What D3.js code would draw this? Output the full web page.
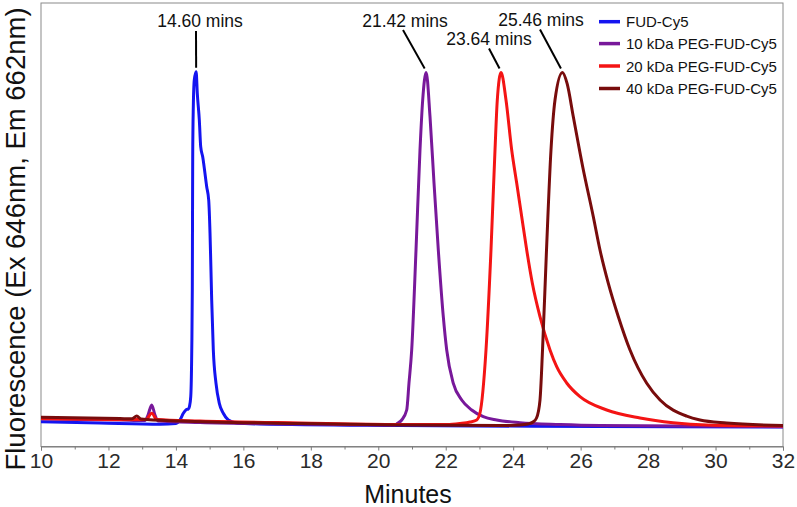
<!DOCTYPE html>
<html>
<head>
<meta charset="utf-8">
<script src="https://cdn.jsdelivr.net/npm/d3@7"></script>
<style>
  html, body { margin: 0; padding: 0; background: #fff; }
  svg { display: block; font-family: "Liberation Sans", Arial, sans-serif; }
</style>
</head>
<body>
<svg id="chart" width="797" height="507"></svg>
<script>
// ---- Data (minutes, fluorescence in arbitrary units) ----
const seriesNames = ["FUD-Cy5", "10 kDa PEG-FUD-Cy5", "20 kDa PEG-FUD-Cy5", "40 kDa PEG-FUD-Cy5"];
const seriesColors = ["#1414f0", "#78189a", "#f41414", "#780c0c"];

const fudTime = [10.00, 11.75, 13.53, 14.00, 14.12, 14.22, 14.32, 14.37, 14.40, 14.44, 14.47, 14.486, 14.492, 14.498, 14.516, 14.545, 14.60, 14.634, 14.694, 14.735, 14.794, 14.913, 14.972, 15.011, 15.032, 15.061, 15.109, 15.189, 15.287, 15.405, 15.554, 15.802, 16.493, 20.644, 26.574, 32.00];
const fudValue = [5.59, 5.30, 5.03, 5.19, 5.98, 7.49, 8.39, 8.46, 8.97, 11.23, 21.76, 35.29, 50.39, 65.28, 76.62, 82.64, 84.51, 79.64, 73.62, 67.60, 65.34, 58.58, 55.58, 48.14, 42.05, 33.03, 21.76, 14.25, 9.74, 7.49, 5.98, 5.30, 5.07, 4.73, 4.51, 4.40];

const peg10Time = [10.00, 12.342, 13.084, 13.173, 13.282, 13.380, 13.469, 14.714, 17.679, 20.496, 20.585, 20.695, 20.843, 20.911, 20.991, 21.119, 21.237, 21.317, 21.42, 21.534, 21.653, 21.780, 21.928, 22.029, 22.225, 22.474, 22.770, 23.114, 23.511, 24.202, 25.388, 26.574, 32.00];
const peg10Value = [6.20, 5.98, 5.86, 7.10, 9.36, 7.10, 5.75, 5.41, 5.07, 4.85, 5.30, 5.98, 8.23, 14.32, 21.76, 44.31, 66.85, 78.13, 84.33, 74.36, 59.35, 44.31, 29.27, 21.76, 14.25, 10.48, 8.23, 6.72, 5.98, 5.37, 4.96, 4.73, 4.46];

const peg20Time = [10.00, 12.342, 13.113, 13.282, 13.439, 14.714, 17.679, 20.644, 22.038, 22.423, 22.720, 22.919, 23.016, 23.194, 23.342, 23.461, 23.529, 23.64, 23.787, 23.956, 24.104, 24.253, 24.401, 24.567, 24.795, 25.092, 25.290, 25.587, 25.981, 26.773, 27.761, 28.739, 29.738, 32.00];
const peg20Value = [6.31, 6.09, 6.09, 7.49, 6.09, 5.75, 5.30, 4.96, 4.96, 5.19, 5.52, 5.98, 7.55, 21.76, 44.31, 66.85, 78.13, 84.33, 78.13, 66.85, 59.41, 51.82, 44.31, 36.87, 29.27, 21.76, 17.99, 14.32, 11.23, 8.23, 6.43, 5.37, 4.85, 4.62];

const peg40Time = [10.00, 12.342, 12.698, 12.838, 12.965, 14.121, 17.679, 20.644, 23.609, 24.202, 24.440, 24.588, 24.692, 24.795, 24.870, 24.988, 25.121, 25.240, 25.46, 25.60, 25.783, 26.061, 26.376, 26.574, 26.821, 27.118, 27.464, 27.960, 28.355, 29.146, 29.539, 30.331, 32.00];
const peg40Value = [6.58, 6.31, 6.25, 6.88, 6.20, 5.75, 5.19, 4.85, 4.73, 4.85, 5.07, 5.52, 6.43, 10.48, 21.76, 44.31, 66.85, 78.13, 84.33, 81.80, 74.36, 63.09, 51.82, 44.31, 36.78, 29.27, 21.76, 14.25, 10.48, 6.84, 5.98, 5.30, 4.73];

const peakLabels = ["14.60 mins", "21.42 mins", "23.64 mins", "25.46 mins"];
const peakTimes = [14.60, 21.42, 23.64, 25.46];

const xTicks = [10, 12, 14, 16, 18, 20, 22, 24, 26, 28, 30, 32];
const xMinorTicks = [11, 13, 15, 17, 19, 21, 23, 25, 27, 29, 31];

// ---- Layout ----
const svg = d3.select("#chart");
const pLeft = 41, pRight = 783, pTop = 3, pBottom = 446.5;

const x = d3.scaleLinear().domain([10, 32]).range([pLeft, pRight]);
const y = d3.scaleLinear().domain([0, 100]).range([pBottom, pTop]);

// Frame
svg.append("rect")
  .attr("x", pLeft).attr("y", pTop)
  .attr("width", pRight - pLeft).attr("height", pBottom - pTop)
  .attr("fill", "none").attr("stroke", "#8a8a8a").attr("stroke-width", 1);

// Axis
const axis = d3.axisBottom(x).tickValues(xTicks).tickSize(4).tickPadding(3).tickFormat(d3.format("d"));
const gx = svg.append("g").attr("transform", `translate(0,${pBottom})`).call(axis);
gx.select(".domain").attr("stroke", "#7a7a7a");
gx.selectAll(".tick line").attr("stroke", "#7a7a7a");
gx.selectAll(".tick text").attr("font-size", 21).attr("fill", "#2a2a2a")
  .attr("font-family", "Liberation Sans, Arial, sans-serif");
const minorAxis = d3.axisBottom(x).tickValues(xMinorTicks).tickSize(3).tickFormat("");
const gm = svg.append("g").attr("transform", `translate(0,${pBottom})`).call(minorAxis);
gm.select(".domain").remove();
gm.selectAll(".tick line").attr("stroke", "#7a7a7a");

// Axis titles
svg.append("text")
  .attr("x", 408).attr("y", 503)
  .attr("text-anchor", "middle").attr("font-size", 25).attr("fill", "#111")
  .text("Minutes");
svg.append("text")
  .attr("transform", "translate(24.5,239) rotate(-90)")
  .attr("text-anchor", "middle").attr("font-size", 27.5).attr("fill", "#111")
  .text("Fluorescence (Ex 646nm, Em 662nm)");

// Lines
const seriesData = [
  d3.zip(fudTime, fudValue),
  d3.zip(peg10Time, peg10Value),
  d3.zip(peg20Time, peg20Value),
  d3.zip(peg40Time, peg40Value)
];
const line = d3.line().x(d => x(d[0])).y(d => y(d[1])).curve(d3.curveMonotoneX);
const clipId = "plotclip";
svg.append("clipPath").attr("id", clipId).append("rect")
  .attr("x", pLeft).attr("y", pTop).attr("width", pRight - pLeft).attr("height", pBottom - pTop);
svg.append("g").attr("clip-path", `url(#${clipId})`)
  .selectAll("path").data(seriesData).join("path")
  .attr("d", line)
  .attr("fill", "none")
  .attr("stroke", (d, i) => seriesColors[i])
  .attr("stroke-width", 3)
  .attr("stroke-linejoin", "round");

// Peak annotations: label positions (pixel) and leader lines
const labelPos = [[200, 27], [405, 27], [489, 45], [541, 26]];
const leaderStart = [[196, 31], [403, 30], [489, 48.5], [540, 29.5]];
const ann = svg.append("g");
peakTimes.forEach((t, i) => {
  const peakVal = seriesData[i].find(d => d[0] === t)[1];
  ann.append("line")
    .attr("x1", leaderStart[i][0]).attr("y1", leaderStart[i][1])
    .attr("x2", x(t) - (i === 0 ? 0 : 1.5)).attr("y2", y(peakVal) - 4)
    .attr("stroke", "#000").attr("stroke-width", 2);
  ann.append("text")
    .attr("x", labelPos[i][0]).attr("y", labelPos[i][1])
    .attr("text-anchor", "middle").attr("font-size", 17.5).attr("fill", "#111")
    .text(peakLabels[i]);
});

// Legend
const legend = svg.append("g");
const legY = [21.7, 43.6, 66, 88.5];
seriesNames.forEach((name, i) => {
  legend.append("line")
    .attr("x1", 599).attr("x2", 620).attr("y1", legY[i]).attr("y2", legY[i])
    .attr("stroke", seriesColors[i]).attr("stroke-width", 3.5);
  legend.append("text")
    .attr("x", 626).attr("y", legY[i] + 5.5)
    .attr("font-size", 15).attr("fill", "#111")
    .text(name);
});
</script>
</body>
</html>
